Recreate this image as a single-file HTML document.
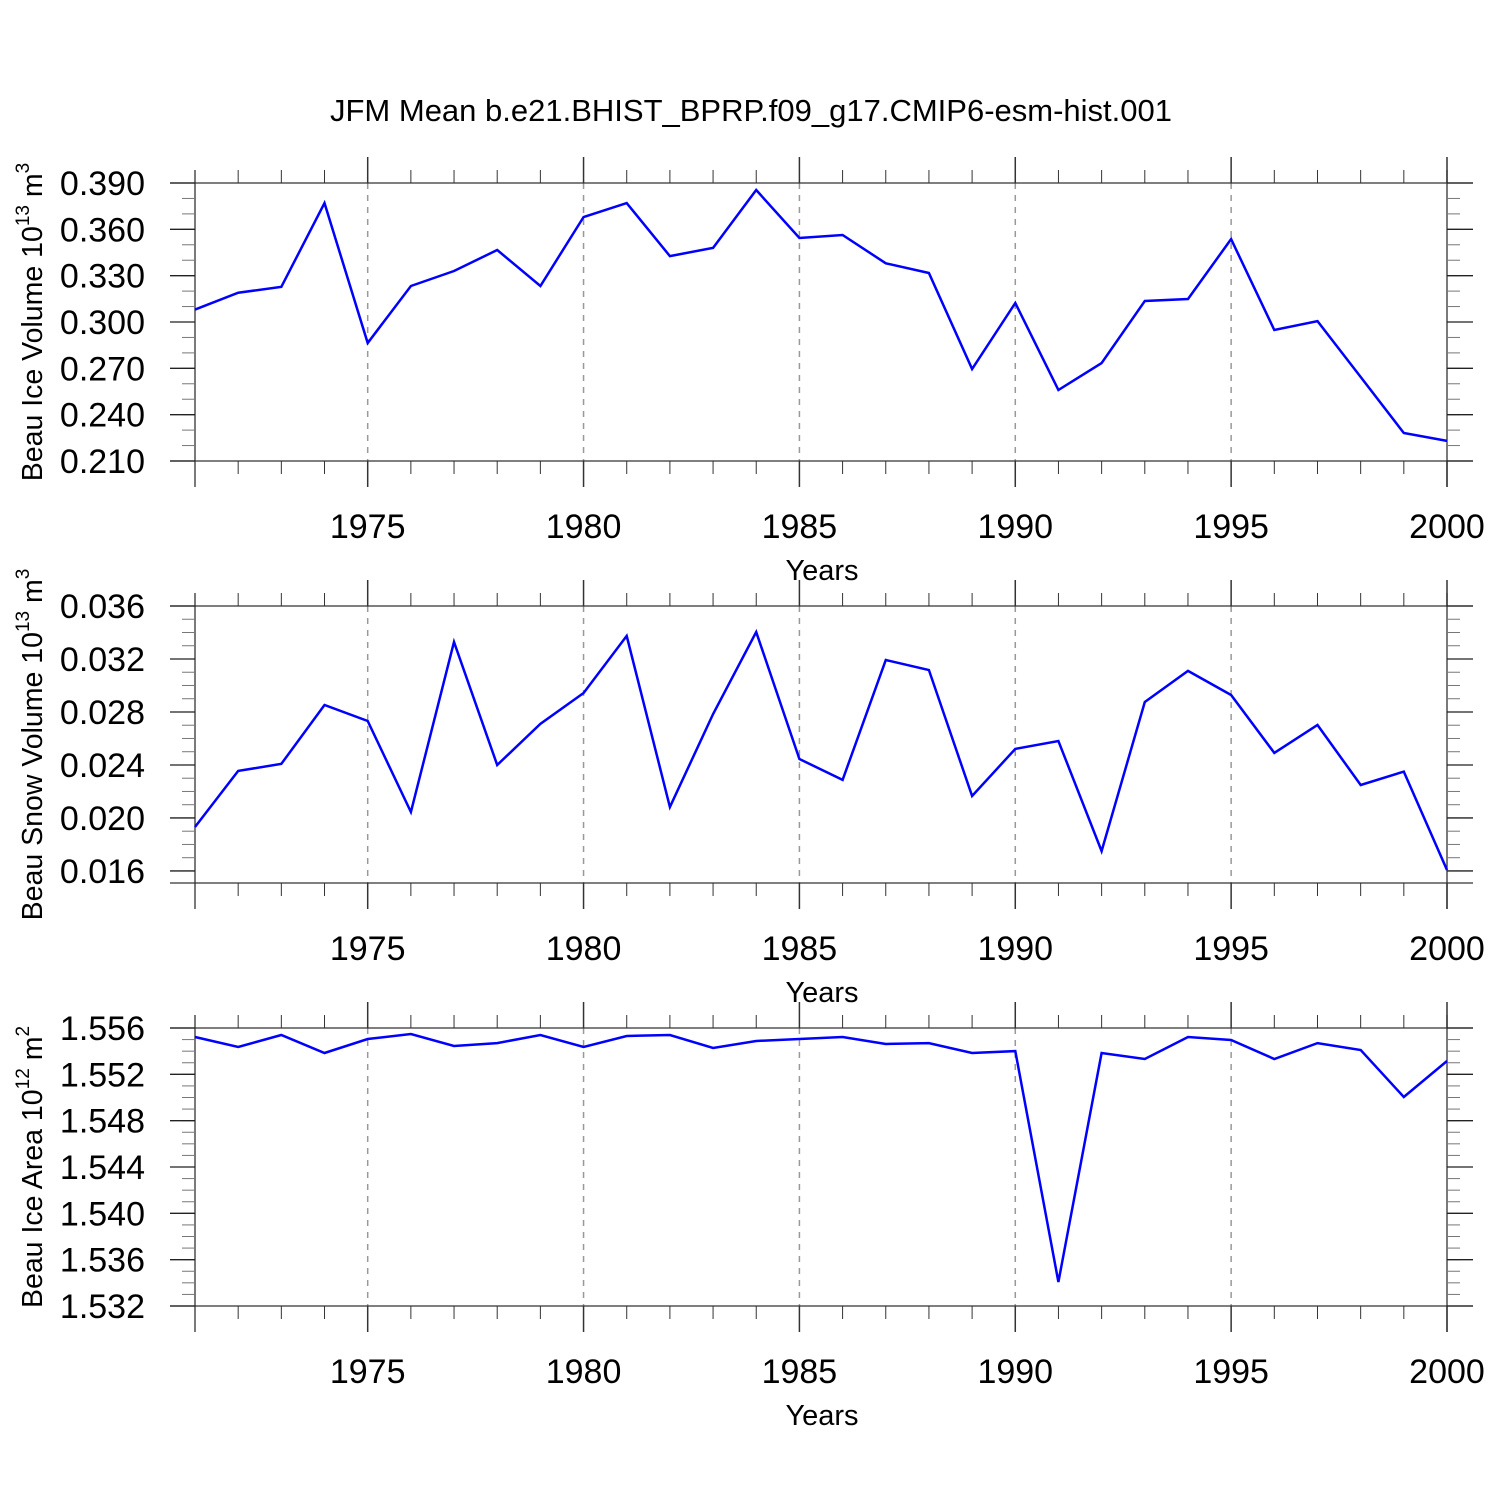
<!DOCTYPE html>
<html><head><meta charset="utf-8">
<style>
html,body{margin:0;padding:0;background:#fff;}
svg{display:block;font-family:"Liberation Sans",sans-serif;}
</style></head>
<body>
<svg id="chart" width="1500" height="1500" viewBox="0 0 1500 1500">
<text x="751" y="121" font-size="31" text-anchor="middle">JFM Mean b.e21.BHIST_BPRP.f09_g17.CMIP6-esm-hist.001</text>
</svg>
<script>
const years = [1971,1972,1973,1974,1975,1976,1977,1978,1979,1980,1981,1982,1983,1984,1985,1986,1987,1988,1989,1990,1991,1992,1993,1994,1995,1996,1997,1998,1999,2000];
const iceVolume = [0.308,0.319,0.3227,0.377,0.2864,0.3233,0.333,0.3466,0.3233,0.368,0.377,0.3427,0.348,0.3855,0.3544,0.3563,0.338,0.3317,0.2696,0.3123,0.256,0.2734,0.3136,0.3149,0.3537,0.2948,0.3006,0.2644,0.2281,0.223];
const snowVolume = [0.01932,0.02355,0.02408,0.02853,0.02732,0.02045,0.03328,0.024,0.0271,0.02943,0.03374,0.02083,0.02785,0.03404,0.02445,0.02287,0.03192,0.03117,0.02166,0.02521,0.02581,0.0175,0.02875,0.0311,0.02928,0.02491,0.02702,0.02249,0.0235,0.01607];
const iceArea = [1.55522,1.55436,1.5554,1.55384,1.55505,1.55548,1.55445,1.5547,1.5554,1.55436,1.55531,1.5554,1.55427,1.55488,1.55505,1.55522,1.55462,1.5547,1.55384,1.55401,1.53407,1.55384,1.55332,1.55522,1.55496,1.55332,1.5547,1.5541,1.55004,1.55315];
const xTickLabels = [1975,1980,1985,1990,1995,2000];
const iceVolumeTicks = [0.390,0.360,0.330,0.300,0.270,0.240,0.210];
const snowVolumeTicks = [0.036,0.032,0.028,0.024,0.020,0.016];
const iceAreaTicks = [1.556,1.552,1.548,1.544,1.540,1.536,1.532];

const NS = "http://www.w3.org/2000/svg";
const svg = document.getElementById('chart');
function mk(tag, attrs, parent){
  const e = document.createElementNS(NS, tag);
  for (const k in attrs) e.setAttribute(k, attrs[k]);
  (parent||svg).appendChild(e);
  return e;
}
const X0 = 195, X1 = 1447;
function xScale(yr){ return X0 + (yr - 1971) * (X1 - X0) / 29; }

function panel(cfg){
  const g = mk('g', {});
  
  
  const top = cfg.top, bot = cfg.bot;
  const yScale = v => top + (cfg.ymax - v) * (bot - top) / (cfg.ymax - cfg.ymin);
  xTickLabels.slice(0,5).forEach(yr => {
    const l = mk('line', {x1:xScale(yr), x2:xScale(yr), y1:top, y2:bot, stroke:'#999', 'stroke-width':1.5, 'stroke-dasharray':'6,6'}, g);
    
    
  });
  const st = {stroke:'#333','stroke-width':1.3};
  mk('line', Object.assign({x1:170,x2:1473,y1:top,y2:top}, st), g);
  mk('line', Object.assign({x1:170,x2:1473,y1:bot,y2:bot}, st), g);
  mk('line', Object.assign({x1:X0,x2:X0,y1:top-13,y2:bot+26}, st), g);
  mk('line', Object.assign({x1:X1,x2:X1,y1:top-13,y2:bot+26}, st), g);
  years.forEach(yr => {
    const x = xScale(yr), major = yr % 5 === 0;
    const len = major ? 26 : 13;
    mk('line', {x1:x,x2:x,y1:top,y2:top-len,stroke:'#333','stroke-width':major?1.5:1}, g);
    mk('line', {x1:x,x2:x,y1:bot,y2:bot+len,stroke:'#333','stroke-width':major?1.5:1}, g);
  });
  xTickLabels.forEach(yr => {
    const t = mk('text', {x:xScale(yr), y:bot+77, 'font-size':34, 'text-anchor':'middle'}, g);
    t.textContent = yr;
    
    
  });
  const xt = mk('text', {x:822, y:bot+119, 'font-size':29, 'text-anchor':'middle'}, g);
  xt.textContent = 'Years';
  
  
  for (let v = cfg.ymin; v <= cfg.ymax + 1e-9; v += cfg.minor){
    const vv = Math.round(v / cfg.minor) * cfg.minor;
    if (vv < cfg.ymin - 1e-9) continue;
    const y = yScale(vv);
    mk('line', {x1:X0-13,x2:X0,y1:y,y2:y,stroke:'#777','stroke-width':1}, g);
    mk('line', {x1:X1,x2:X1+13,y1:y,y2:y,stroke:'#777','stroke-width':1}, g);
  }
  cfg.ticks.forEach(v => {
    const y = yScale(v);
    mk('line', {x1:170,x2:X0,y1:y,y2:y,stroke:'#222','stroke-width':1.3}, g);
    mk('line', {x1:X1,x2:1473,y1:y,y2:y,stroke:'#222','stroke-width':1.3}, g);
    const t = mk('text', {x:145, y:y+12, 'font-size':34, 'text-anchor':'end'}, g);
    t.textContent = v.toFixed(3);
    
    
  });
  const cy = (top + bot) / 2;
  const yt = mk('text', {x:0, y:0, 'font-size':28.5, 'text-anchor':'middle', transform:`translate(42 ${cy}) rotate(-90)`}, g);
  yt.innerHTML = cfg.title + ' 10<tspan font-size="19" dy="-13">' + cfg.exp + '</tspan><tspan dy="13"> m</tspan><tspan font-size="19" dy="-13">' + cfg.unit + '</tspan>';
  
  
  const pts = cfg.data.map((v,i) => xScale(years[i]).toFixed(1) + ',' + yScale(v).toFixed(1)).join(' ');
  const pl = mk('polyline', {points:pts, fill:'none', stroke:'#0000ff', 'stroke-width':2.5, 'stroke-linejoin':'miter'}, g);
  
  
}

panel({name:'ice-volume-panel', top:183, bot:461, ymin:0.210, ymax:0.390, minor:0.010, ticks:iceVolumeTicks, data:iceVolume, title:'Beau Ice Volume', exp:'13', unit:'3'});
panel({name:'snow-volume-panel', top:606, bot:883, ymin:0.01509, ymax:0.036, minor:0.001, ticks:snowVolumeTicks, data:snowVolume, title:'Beau Snow Volume', exp:'13', unit:'3'});
panel({name:'ice-area-panel', top:1028, bot:1306, ymin:1.532, ymax:1.556, minor:0.001, ticks:iceAreaTicks, data:iceArea, title:'Beau Ice Area', exp:'12', unit:'2'});
</script>
</body></html>
